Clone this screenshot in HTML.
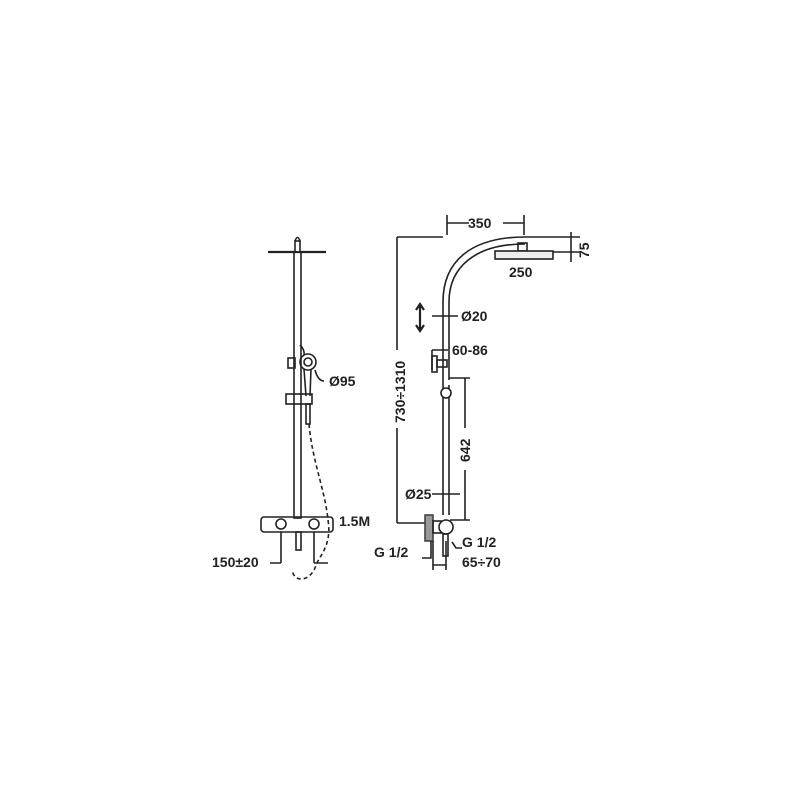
<!DOCTYPE html>
<html><head><style>body{margin:0;background:#fff}</style></head><body>
<svg width="800" height="800" viewBox="0 0 800 800" xmlns="http://www.w3.org/2000/svg" font-family="Liberation Sans, sans-serif" font-weight="bold" font-size="14" fill="none" stroke="#222" stroke-width="1.6">
<!-- LEFT -->
<path d="M268 252 H326" stroke-width="2.2"/>
<rect x="295" y="241" width="5" height="11" fill="#fff"/>
<path d="M295 241 Q297.5 234 300 241"/>
<rect x="294" y="252" width="7" height="266"/>
<circle cx="308" cy="362" r="8"/><circle cx="308" cy="362" r="4"/>
<path d="M304 369 L306 396 M311 369 L310 396"/>
<rect x="288" y="358" width="7" height="10"/>
<path d="M300 345 Q305 350 304 355"/>
<rect x="286" y="394" width="26" height="10"/>
<rect x="306" y="404" width="4" height="20"/>
<path d="M309 424 C312 460 325 490 328 520 C332 545 320 555 316 565 C312 580 295 585 292 570" stroke-dasharray="4,3"/>
<rect x="261" y="517" width="72" height="15" rx="3"/>
<circle cx="281" cy="524" r="5"/><circle cx="314" cy="524" r="5"/>
<rect x="296" y="532" width="5" height="18"/>
<path d="M281 532 V563 M314 532 V563 M270 563 H281 M314 563 H328"/>
<path d="M324 381 Q318 381 315 370"/>
<g fill="#222" stroke="none">
<text x="329" y="386">Ø95</text>
<text x="339" y="526">1.5M</text>
<text x="212" y="567">150±20</text>
</g>
<!-- RIGHT -->
<path d="M447 235 V215 M524 235 V215 M447 223 H469 M503 223 H524"/>
<path d="M443 302 V515 M449 302 V380 M449 385 V515"/>
<path d="M443 302 C443 262 470 237 525 237 H527 M449 302 C449 268 474 244 525 244"/>
<path d="M527 237 H580 M553 252 H580 M571 232 V262"/>
<rect x="518" y="243" width="9" height="8"/>
<rect x="495" y="251" width="58" height="8" fill="#eee"/>
<path d="M397 237 H443 M397 237 V350 M397 428 V523 M397 523 H430"/>
<path d="M420 305 V330 M416 310 L420 304 L424 310 M416 325 L420 331 L424 325" stroke-width="2.2"/>
<path d="M432 316 H458"/>
<path d="M432 350 H448 M432 350 V370"/>
<rect x="432" y="356" width="5" height="16"/>
<rect x="437" y="360" width="10" height="7"/>
<path d="M449 378 H470 M465 378 V428 M465 470 V520 M450 520 H470"/>
<circle cx="446" cy="393" r="5" fill="#fff"/>
<path d="M432 494 H460"/>
<rect x="425" y="515" width="8" height="26" fill="#999" stroke="#444"/>
<rect x="433" y="521" width="8" height="12"/>
<circle cx="446" cy="527" r="7" fill="#fff"/>
<rect x="443" y="534" width="5" height="22"/>
<path d="M431 541 V558 H422 M433 541 V570 M446 541 V570 M433 565 H446 M452 542 L456 548 H462"/>
<g fill="#222" stroke="none">
<text x="468" y="228">350</text>
<text x="509" y="277">250</text>
<text x="583" y="250" transform="rotate(-90 583 250) translate(-8 6)">75</text>
<text x="461" y="321">Ø20</text>
<text x="452" y="355">60-86</text>
<text x="405" y="390" transform="rotate(-90 405 390) translate(-33 0)">730÷1310</text>
<text x="470" y="449" transform="rotate(-90 470 449) translate(-13 0)">642</text>
<text x="405" y="499">Ø25</text>
<text x="374" y="557">G 1/2</text>
<text x="462" y="547">G 1/2</text>
<text x="462" y="567">65÷70</text>
</g>
</svg>
</body></html>
